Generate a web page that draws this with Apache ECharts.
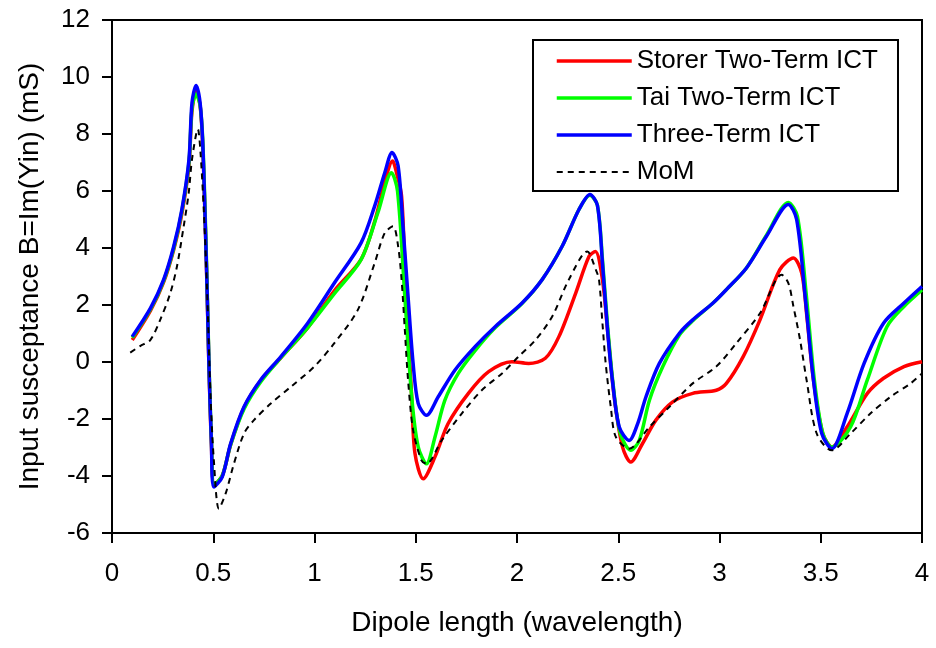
<html>
<head>
    <meta charset="utf-8">
    <title>Input susceptance</title>
    <script src="https://cdn.jsdelivr.net/npm/echarts@6/dist/echarts.min.js"></script>
</head>
<body style="margin:0">
<div id="main" style="width: 936px;height:648px;"></div>
<script type="text/javascript">
    // data (dipole length in wavelengths, B in mS)
    var storerX = [0.1, 0.19, 0.255, 0.305, 0.345, 0.38, 0.395, 0.415, 0.435, 0.448, 0.461, 0.47, 0.478, 0.491, 0.505, 0.544, 0.586, 0.652, 0.734, 0.834, 0.966, 1.098, 1.23, 1.3, 1.35, 1.385, 1.41, 1.43, 1.446, 1.462, 1.48, 1.496, 1.537, 1.595, 1.66, 1.76, 1.86, 1.975, 2.058, 2.14, 2.207, 2.29, 2.356, 2.387, 2.422, 2.447, 2.48, 2.521, 2.562, 2.62, 2.686, 2.769, 2.868, 2.984, 3.034, 3.117, 3.2, 3.298, 3.365, 3.406, 3.43, 3.464, 3.51, 3.555, 3.63, 3.73, 3.81, 3.911, 4.0];
    var storerY = [0.77, 1.8, 2.8, 3.95, 5.2, 6.9, 8.8, 9.5, 9.0, 7.6, 4.7, 2.4, 0.05, -2.9, -4.3, -4.0, -2.9, -1.6, -0.65, 0.15, 1.2, 2.5, 3.6, 5.0, 6.4, 7.05, 6.5, 5.82, 3.47, 1.13, -1.22, -3.2, -4.1, -3.33, -2.16, -1.1, -0.34, 0.01, -0.05, 0.13, 0.89, 2.42, 3.71, 3.88, 2.89, 1.13, -1.22, -2.98, -3.51, -2.86, -2.04, -1.4, -1.1, -0.99, -0.75, 0.19, 1.48, 3.24, 3.65, 3.12, 1.71, -0.63, -2.51, -2.98, -2.28, -1.1, -0.57, -0.16, 0.01];

    var taiX = [0.1, 0.19, 0.255, 0.305, 0.345, 0.38, 0.395, 0.415, 0.435, 0.448, 0.461, 0.47, 0.478, 0.491, 0.505, 0.544, 0.586, 0.652, 0.734, 0.834, 0.966, 1.098, 1.23, 1.313, 1.38, 1.41, 1.446, 1.48, 1.512, 1.553, 1.595, 1.644, 1.71, 1.793, 1.892, 2.025, 2.124, 2.223, 2.306, 2.36, 2.397, 2.422, 2.447, 2.475, 2.51, 2.562, 2.604, 2.654, 2.72, 2.802, 2.868, 2.968, 3.034, 3.133, 3.232, 3.34, 3.385, 3.428, 3.468, 3.51, 3.555, 3.647, 3.73, 3.827, 3.911, 4.0];
    var taiY = [0.85, 1.85, 2.85, 4.0, 5.3, 7.0, 8.9, 9.4, 9.0, 7.8, 5.0, 2.6, 0.2, -2.7, -4.3, -4.0, -2.9, -1.65, -0.7, 0.15, 1.2, 2.4, 3.59, 5.24, 6.64, 6.0, 2.3, -1.22, -2.98, -3.57, -2.63, -1.34, -0.4, 0.4, 1.2, 2.05, 2.89, 4.06, 5.35, 5.85, 5.5, 3.6, 1.3, -0.8, -2.5, -3.1, -2.75, -1.34, -0.16, 0.95, 1.45, 2.07, 2.54, 3.3, 4.45, 5.6, 5.1, 2.4, -0.6, -2.5, -2.98, -2.28, -0.63, 1.24, 1.95, 2.53];

    var threeX = [0.1, 0.19, 0.255, 0.305, 0.345, 0.38, 0.395, 0.415, 0.435, 0.448, 0.461, 0.47, 0.478, 0.491, 0.503, 0.544, 0.586, 0.652, 0.734, 0.834, 0.966, 1.098, 1.23, 1.297, 1.347, 1.383, 1.413, 1.438, 1.462, 1.487, 1.512, 1.553, 1.611, 1.694, 1.793, 1.892, 2.025, 2.124, 2.223, 2.306, 2.36, 2.397, 2.422, 2.447, 2.471, 2.505, 2.554, 2.596, 2.637, 2.703, 2.802, 2.868, 2.968, 3.034, 3.133, 3.232, 3.34, 3.381, 3.423, 3.464, 3.505, 3.555, 3.63, 3.714, 3.81, 3.911, 4.0];
    var threeY = [0.89, 1.89, 2.89, 4.06, 5.35, 7.1, 9.1, 9.7, 9.1, 7.7, 4.76, 2.43, 0.07, -2.86, -4.39, -4.04, -2.86, -1.57, -0.63, 0.19, 1.36, 2.77, 4.18, 5.47, 6.64, 7.35, 6.88, 4.65, 2.3, -0.05, -1.45, -1.87, -1.22, -0.28, 0.54, 1.24, 2.07, 2.89, 4.06, 5.35, 5.88, 5.5, 3.47, 1.13, -0.63, -2.28, -2.75, -2.16, -1.22, -0.05, 1.01, 1.48, 2.07, 2.54, 3.3, 4.41, 5.53, 5.0, 2.3, -0.63, -2.51, -3.04, -1.81, -0.05, 1.36, 2.07, 2.65];

    var momX = [0.09, 0.139, 0.189, 0.238, 0.288, 0.321, 0.354, 0.379, 0.395, 0.424, 0.437, 0.453, 0.47, 0.486, 0.503, 0.528, 0.561, 0.602, 0.652, 0.701, 0.784, 0.883, 0.999, 1.098, 1.214, 1.297, 1.347, 1.388, 1.413, 1.43, 1.446, 1.462, 1.487, 1.528, 1.553, 1.628, 1.727, 1.826, 1.926, 2.008, 2.091, 2.174, 2.256, 2.347, 2.389, 2.405, 2.422, 2.438, 2.463, 2.488, 2.554, 2.654, 2.753, 2.868, 2.984, 3.083, 3.2, 3.307, 3.34, 3.365, 3.398, 3.43, 3.48, 3.555, 3.647, 3.745, 3.845, 3.944, 4.0];
    var momY = [0.33, 0.56, 0.77, 1.48, 2.42, 3.36, 4.76, 5.94, 7.11, 8.17, 7.35, 5.35, 2.43, -1.1, -3.45, -5.15, -4.62, -3.57, -2.51, -2.04, -1.46, -0.87, -0.16, 0.66, 1.83, 3.47, 4.53, 4.76, 4.06, 2.89, 1.13, -0.63, -2.39, -3.45, -3.57, -2.75, -1.81, -0.99, -0.4, 0.19, 0.77, 1.6, 2.89, 3.88, 3.24, 2.89, 1.36, -0.05, -1.57, -2.63, -3.04, -2.28, -1.57, -0.75, -0.16, 0.66, 1.71, 3.06, 2.77, 1.95, 0.77, -0.63, -2.51, -3.1, -2.51, -1.81, -1.22, -0.75, -0.4];

    var seriesNames = ['Storer Two-Term ICT', 'Tai Two-Term ICT', 'Three-Term ICT', 'MoM'];

    function zip(xs, ys) {
        var res = [];
        for (var i = 0; i < xs.length; i++) {
            res.push([xs[i], ys[i]]);
        }
        return res;
    }

    var font = "'Liberation Sans', Arial, sans-serif";
    var myChart = echarts.init(document.getElementById('main'));

    var axisCommon = {
        axisLine: { onZero: false, lineStyle: { color: '#000', width: 2 } },
        axisTick: { inside: false, length: 10, lineStyle: { color: '#000', width: 2 } },
        splitLine: { show: false },
        nameTextStyle: { color: '#000', fontSize: 28, fontFamily: font }
    };

    option = {
        animation: false,
        backgroundColor: '#fff',
        grid: {
            left: 112, right: 14, top: 20, bottom: 115,
            show: true, borderColor: '#000', borderWidth: 2
        },
        legend: {
            data: seriesNames,
            orient: 'vertical',
            left: 533,
            top: 40,
            padding: [8, 20, 6, 22],
            itemWidth: 75,
            itemHeight: 14,
            itemGap: 11,
            borderColor: '#000',
            borderWidth: 2,
            backgroundColor: '#fff',
            itemStyle: { opacity: 0 },
            lineStyle: { width: 'inherit' },
            textStyle: { color: '#000', fontSize: 26, fontFamily: font, lineHeight: 22 }
        },
        xAxis: Object.assign({}, axisCommon, {
            type: 'value',
            min: 0,
            max: 4,
            interval: 0.5,
            name: 'Dipole length (wavelength)',
            nameLocation: 'middle',
            nameGap: 76,
            axisLabel: { color: '#000', fontSize: 26, fontFamily: font, margin: 28 }
        }),
        yAxis: Object.assign({}, axisCommon, {
            type: 'value',
            min: -6,
            max: 12,
            interval: 2,
            name: 'Input susceptance B=Im(Yin) (mS)',
            nameLocation: 'middle',
            nameGap: 68,
            axisLabel: { color: '#000', fontSize: 26, fontFamily: font, margin: 22 }
        }),
        series: [
            {
                name: seriesNames[0], type: 'line', symbol: 'none', smooth: 0.3,
                lineStyle: { color: '#ff0000', width: 3.5 },
                itemStyle: { color: '#ff0000' },
                data: zip(storerX, storerY)
            },
            {
                name: seriesNames[1], type: 'line', symbol: 'none', smooth: 0.3,
                lineStyle: { color: '#00ff00', width: 3.5 },
                itemStyle: { color: '#00ff00' },
                data: zip(taiX, taiY)
            },
            {
                name: seriesNames[2], type: 'line', symbol: 'none', smooth: 0.3,
                lineStyle: { color: '#0000ff', width: 3.5 },
                itemStyle: { color: '#0000ff' },
                data: zip(threeX, threeY)
            },
            {
                name: seriesNames[3], type: 'line', symbol: 'none', smooth: 0.3,
                lineStyle: { color: '#000', width: 2, type: [6, 5] },
                itemStyle: { color: '#000' },
                data: zip(momX, momY)
            }
        ]
    };
    myChart.setOption(option);
</script>
</body>
</html>
